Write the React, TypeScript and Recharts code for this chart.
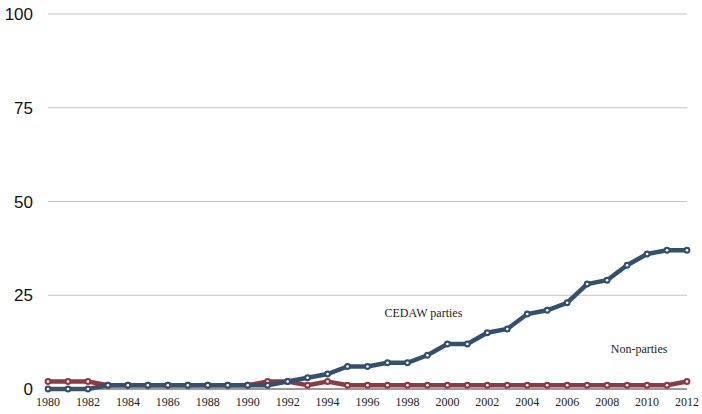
import { LineChart, Line, XAxis, YAxis, CartesianGrid, ReferenceDot } from 'recharts';

const years = [
  1980, 1981, 1982, 1983, 1984, 1985, 1986, 1987, 1988, 1989, 1990,
  1991, 1992, 1993, 1994, 1995, 1996, 1997, 1998, 1999, 2000, 2001,
  2002, 2003, 2004, 2005, 2006, 2007, 2008, 2009, 2010, 2011, 2012,
];

const cedawParties = [
  0, 0, 0, 1, 1, 1, 1, 1, 1, 1, 1,
  1, 2, 3, 4, 6, 6, 7, 7, 9, 12, 12,
  15, 16, 20, 21, 23, 28, 29, 33, 36, 37, 37,
];

const nonParties = [
  2, 2, 2, 1, 1, 1, 1, 1, 1, 1, 1,
  2, 2, 1, 2, 1, 1, 1, 1, 1, 1, 1,
  1, 1, 1, 1, 1, 1, 1, 1, 1, 1, 2,
];

const xTicks = [1980, 1982, 1984, 1986, 1988, 1990, 1992, 1994, 1996, 1998, 2000, 2002, 2004, 2006, 2008, 2010, 2012];
const yTicks = [0, 25, 50, 75, 100];

const BLUE = '#34506d';
const RED = '#8c3b46';

const data = years.map((year, i) => ({
  year,
  cedaw: cedawParties[i],
  non: nonParties[i],
}));

const makeDot = (color: string) => (props: any) => {
  const { cx, cy, index } = props;
  if (cx == null || cy == null) return null;
  return (
    <g key={`dot-${color}-${index}`}>
      <circle cx={cx} cy={cy} r={3.4} fill={color} />
      <circle cx={cx} cy={cy} r={1.3} fill="#ffffff" />
    </g>
  );
};

const App = () => {
  return (
    <div style={{ position: 'absolute', left: 0, top: 0, width: 702, height: 414, background: '#fff' }}>
      <LineChart
        width={702}
        height={414}
        data={data}
        margin={{ top: 14, right: 15, bottom: 0, left: 0 }}
      >
        <CartesianGrid vertical={false} stroke="#c4c4c4" strokeWidth={1} />
        <XAxis
          dataKey="year"
          type="number"
          domain={[1980, 2012]}
          ticks={xTicks}
          interval={0}
          tickLine={false}
          axisLine={{ stroke: '#555', strokeWidth: 1 }}
          height={25}
          tick={{ fontSize: 12, fontFamily: 'Liberation Serif', fill: '#222' }}
        />
        <YAxis
          type="number"
          domain={[0, 100]}
          ticks={yTicks}
          tickLine={false}
          axisLine={false}
          width={48}
          tickMargin={9}
          tick={{ fontSize: 17, fontFamily: 'Liberation Sans', fill: '#111' }}
        />
        <Line
          dataKey="non"
          stroke={RED}
          strokeWidth={4.5}
          type="linear"
          dot={makeDot(RED)}
          activeDot={false}
          isAnimationActive={false}
        />
        <Line
          dataKey="cedaw"
          stroke={BLUE}
          strokeWidth={4.5}
          type="linear"
          dot={makeDot(BLUE)}
          activeDot={false}
          isAnimationActive={false}
        />
        <ReferenceDot
          x={1998.8}
          y={20.3}
          r={0}
          fill="none"
          stroke="none"
          label={{ value: 'CEDAW parties', position: 'center', fontSize: 12, fontFamily: 'Liberation Serif', fill: '#222' }}
        />
        <ReferenceDot
          x={2009.6}
          y={10.7}
          r={0}
          fill="none"
          stroke="none"
          label={{ value: 'Non-parties', position: 'center', fontSize: 12, fontFamily: 'Liberation Serif', fill: '#222' }}
        />
      </LineChart>
    </div>
  );
};

export default App;
